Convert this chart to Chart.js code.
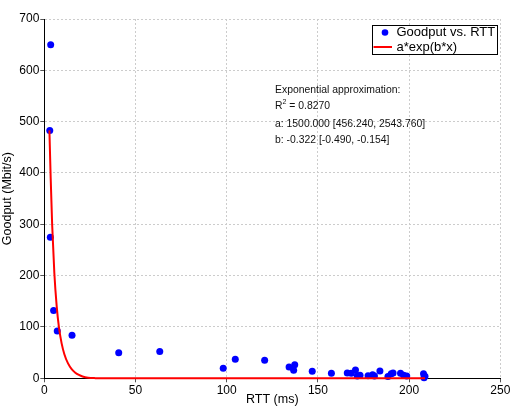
<!DOCTYPE html>
<html>
<head>
<meta charset="utf-8">
<script src="https://cdn.jsdelivr.net/npm/chart.js@4/dist/chart.umd.min.js"></script>
<style>
  html, body { margin: 0; padding: 0; background: #fff; }
  #wrap { width: 512px; height: 409px; }
</style>
</head>
<body>
<div id="wrap"><canvas id="chart" width="512" height="409"></canvas></div>
<script>
// measured points (RTT in ms, goodput in Mbit/s)
const rttValues = [3.5, 3.0, 3.3, 5.1, 7.1, 15.2, 40.8, 63.3, 98.1, 104.7,
  120.8, 134.2, 136.7, 137.3, 146.9, 157.4, 166.1, 168.3, 170.6, 171.6,
  173.1, 177.5, 180.0, 181.0, 184.0, 188.4, 190.2, 191.2, 195.3, 197.0,
  198.7, 207.9, 208.7, 208.2];
const goodputValues = [650, 483, 275, 132, 92, 84, 50, 52, 19.5, 37,
  35, 22, 15.6, 26.5, 13.5, 10, 10.3, 10, 16, 4.5,
  6, 5, 7, 4.5, 14, 3.5, 9, 10.3, 10, 6,
  4.5, 9, 4, 1];

// fitted curve
const fitRtt = [2.8, 3.5, 4.3, 5.5, 6.8, 8.0, 9.5, 11, 13, 15, 17, 19, 21, 24, 28, 35, 80, 150, 208.7];
const fitGoodput = [483, 390, 300, 205, 140, 100, 68, 47, 29, 18, 11, 6.5, 3.5, 1.2, 0.3, 0, 0, 0, 0];

const legendLabels = ['Goodput vs. RTT', 'a*exp(b*x)'];
const noteLines = ['Exponential approximation:', 'R2 = 0.8270',
  'a: 1500.000 [456.240, 2543.760]', 'b: -0.322 [-0.490, -0.154]'];

const FONT = '"Liberation Sans", Arial, sans-serif';

// legend box + annotation text
const overlayPlugin = {
    id: 'overlay',
    afterDraw(chart) {
        const ctx = chart.ctx;
        ctx.save();
        // legend
        ctx.fillStyle = '#fff';
        ctx.fillRect(372.5, 25.5, 125, 29);
        ctx.strokeStyle = '#000';
        ctx.lineWidth = 1;
        ctx.strokeRect(372.5, 25.5, 125, 29);
        ctx.fillStyle = '#0000ff';
        ctx.beginPath();
        ctx.arc(385, 32.5, 3.3, 0, Math.PI * 2);
        ctx.fill();
        ctx.strokeStyle = '#ff0000';
        ctx.lineWidth = 2;
        ctx.beginPath();
        ctx.moveTo(373.5, 47);
        ctx.lineTo(392, 47);
        ctx.stroke();
        ctx.fillStyle = '#000';
        ctx.font = '13px ' + FONT;
        ctx.textBaseline = 'middle';
        ctx.fillText(legendLabels[0], 396.5, 32.5);
        ctx.fillText(legendLabels[1], 396.5, 47);

        // annotation
        ctx.font = '10.4px ' + FONT;
        ctx.fillStyle = '#111';
        ctx.fillText(noteLines[0], 275, 90);
        ctx.fillText('R', 275, 106.5);
        const rw = ctx.measureText('R').width;
        ctx.font = '7px ' + FONT;
        ctx.fillText('2', 275 + rw, 102.5);
        const sw = ctx.measureText('2').width;
        ctx.font = '10.4px ' + FONT;
        ctx.fillText(noteLines[1].slice(2), 275 + rw + sw, 106.5);
        ctx.fillText(noteLines[2], 275, 124.5);
        ctx.fillText(noteLines[3], 275, 140);
        ctx.restore();
    }
};

new Chart(document.getElementById('chart'), {
    type: 'scatter',
    data: {
        datasets: [{
            label: legendLabels[0],
            data: rttValues.map((x, i) => ({ x: x, y: goodputValues[i] })),
            backgroundColor: '#0000ff',
            borderColor: '#0000ff',
            pointRadius: 3.5,
            pointHoverRadius: 3.5,
            borderWidth: 0,
            clip: false,
            order: 2
        }, {
            label: legendLabels[1],
            type: 'line',
            data: fitRtt.map((x, i) => ({ x: x, y: fitGoodput[i] })),
            borderColor: '#ff0000',
            backgroundColor: '#ff0000',
            borderWidth: 2,
            pointRadius: 0,
            cubicInterpolationMode: 'monotone',
            fill: false,
            clip: false,
            order: 1
        }]
    },
    options: {
        responsive: false,
        animation: false,
        events: [],
        layout: { padding: { top: 19, right: 11.7, left: 0, bottom: 0 } },
        plugins: {
            legend: { display: false },
            tooltip: { enabled: false }
        },
        scales: {
            x: {
                type: 'linear',
                min: 0,
                max: 250,
                ticks: { stepSize: 50, color: '#000', font: { family: FONT, size: 12 }, padding: 1, maxRotation: 0 },
                grid: { color: '#cccccc', tickColor: '#555', tickLength: 4, lineWidth: 1 },
                border: { color: '#000', dash: [2, 2], width: 1 },
                title: { display: true, text: 'RTT (ms)', color: '#000', font: { family: FONT, size: 12.5 }, padding: { top: 0, bottom: 2 } },
                afterFit(scale) { scale.height = 30.7; }
            },
            y: {
                min: 0,
                max: 700,
                ticks: { stepSize: 100, color: '#000', font: { family: FONT, size: 12 }, padding: 1 },
                grid: { color: '#cccccc', tickColor: '#555', tickLength: 4, lineWidth: 1 },
                border: { color: '#000', dash: [2, 2], width: 1 },
                title: { display: true, text: 'Goodput (Mbit/s)', color: '#000', font: { family: FONT, size: 12.5 }, padding: { top: 0, bottom: 2 } },
                afterFit(scale) { scale.width = 44.3; }
            }
        }
    },
    plugins: [overlayPlugin]
});
</script>
</body>
</html>
